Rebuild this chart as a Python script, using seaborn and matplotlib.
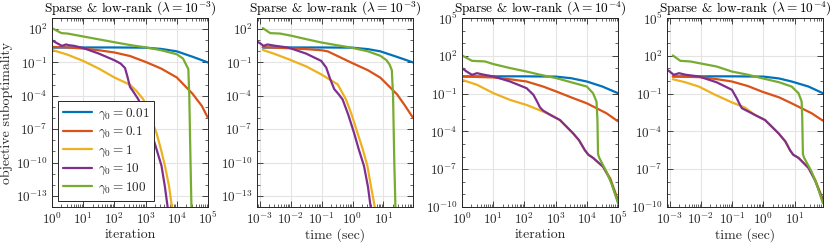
import numpy as np
import pandas as pd
import matplotlib
matplotlib.use('Agg')
import matplotlib.pyplot as plt
from matplotlib.ticker import LogLocator, FixedLocator, NullFormatter
import seaborn as sns

sns.set_theme(style='ticks')
plt.rcParams['font.family'] = 'serif'
plt.rcParams['font.serif'] = ['cmr10']
plt.rcParams['mathtext.fontset'] = 'cm'
plt.rcParams['axes.formatter.use_mathtext'] = True
plt.rcParams['axes.unicode_minus'] = False

# series labels and colours (matlab default order)
gammas = [r'$\gamma_0 = 0.01$', r'$\gamma_0 = 0.1$', r'$\gamma_0 = 1$',
          r'$\gamma_0 = 10$', r'$\gamma_0 = 100$']
colors = ['#0072BD', '#D95319', '#EDB120', '#7E2F8E', '#77AC30']

# all values below are log10 of what is plotted
# panel 1: lambda = 1e-3, vs iteration
it3_x = [
    [0, 1, 2, 3, 3.5, 4, 4.5, 5],
    [0, 0.5, 1, 1.5, 2, 2.5, 3, 3.5, 4, 4.5, 4.8, 5],
    [0, 0.5, 1, 1.5, 2, 2.5, 2.71, 2.93, 3.12, 3.35, 3.5, 3.62, 3.75, 3.86, 3.92],
    [0, 0.15, 0.32, 0.45, 0.55, 0.7, 1.0, 1.5, 2.0, 2.2, 2.34, 2.42, 2.5, 2.6,
     2.77, 2.98, 3.19, 3.35, 3.51, 3.62, 3.72, 3.76],
    [0, 0.3, 0.5, 1.0, 1.5, 2.0, 2.5, 3.0, 3.5, 4.0, 4.2, 4.37, 4.4, 4.44, 4.48],
]
it3_y = [
    [0.34, 0.35, 0.35, 0.33, 0.22, 0.0, -0.48, -1.0],
    [0.4, 0.35, 0.25, 0.1, -0.1, -0.42, -0.95, -1.55, -2.35, -3.8, -4.9, -6.0],
    [0.13, -0.3, -0.86, -1.55, -2.35, -3.0, -3.57, -4.33, -5.68, -7.34, -8.9,
     -10.3, -12.1, -14.3, -15.5],
    [1.0, 0.75, 0.49, 0.62, 0.55, 0.5, 0.3, -0.2, -0.8, -1.1, -1.5, -2.3, -3.2,
     -3.6, -4.33, -5.68, -7.34, -8.8, -10.3, -12.2, -14.3, -15.5],
    [2.09, 1.64, 1.6, 1.34, 1.08, 0.82, 0.57, 0.36, 0.1, -0.26, -0.65, -1.6,
     -4.0, -10.0, -15.5],
]

# panel 2: lambda = 1e-3, vs time (sec)
t3_x = [
    [-2.9, -2, -1, 0, 0.5, 0.9, 1.44, 1.96],
    [-2.9, -2.07, -1.5, -1.0, -0.8, -0.5, -0.05, 0.5, 0.9, 1.44, 1.7, 1.96],
    [-2.9, -2.5, -2.07, -1.5, -1.01, -0.48, -0.21, -0.03, 0.16, 0.33, 0.48,
     0.6, 0.74, 0.78],
    [-3.2, -3.0, -2.87, -2.75, -2.5, -2.07, -1.5, -1.01, -0.85, -0.72, -0.59,
     -0.45, -0.32, -0.14, 0.05, 0.2, 0.37, 0.5, 0.6, 0.65],
    [-2.9, -2.66, -2.34, -1.97, -1.5, -1.01, -0.5, -0.05, 0.5, 0.9, 1.1, 1.2,
     1.27, 1.31, 1.35, 1.4],
]
t3_y = [
    [0.34, 0.35, 0.35, 0.33, 0.2, 0.0, -0.5, -1.0],
    [0.38, 0.28, 0.2, 0.1, 0.0, -0.4, -1.0, -1.7, -2.37, -3.87, -4.9, -6.0],
    [0.13, -0.25, -0.7, -1.35, -2.07, -2.97, -4.33, -5.68, -7.34, -8.8, -10.3,
     -12.2, -14.3, -15.5],
    [1.1, 0.75, 0.49, 0.62, 0.5, 0.34, -0.2, -0.86, -1.46, -2.5, -3.4, -3.85,
     -4.33, -5.68, -7.34, -8.8, -10.3, -12.2, -14.3, -15.5],
    [2.09, 1.64, 1.6, 1.4, 1.1, 0.8, 0.55, 0.34, 0.0, -0.4, -0.8, -1.2, -1.7,
     -4.0, -10.0, -15.5],
]

# panel 3: lambda = 1e-4, vs iteration
it4_x = [
    [0, 1, 2, 3, 3.5, 4, 4.5, 5],
    [0, 1.01, 1.5, 2.07, 2.6, 3.03, 3.5, 4.0, 4.63, 5],
    [0, 0.48, 1.01, 1.54, 2.07, 2.6, 2.9, 3.14, 3.56, 3.75, 3.94, 4.05, 4.2,
     4.52, 4.75, 5],
    [0, 0.15, 0.32, 0.48, 0.7, 1.01, 1.54, 2.07, 2.29, 2.4, 2.5, 2.6, 2.87,
     3.14, 3.56, 3.75, 3.94, 4.05, 4.2, 4.52, 4.75, 4.95, 5],
    [0, 0.32, 0.74, 1.01, 1.5, 2.07, 2.5, 3.03, 3.5, 4.0, 4.2, 4.31, 4.34,
     4.36, 4.4, 4.63, 4.8, 5],
]
it4_y = [
    [0.36, 0.37, 0.37, 0.35, 0.22, -0.04, -0.44, -0.97],
    [0.36, 0.28, 0.15, -0.04, -0.44, -0.84, -1.3, -1.77, -2.56, -3.2],
    [0.09, -0.3, -0.97, -1.5, -1.9, -2.43, -2.75, -3.1, -4.15, -4.7, -5.5,
     -5.85, -6.1, -6.8, -7.7, -9.4],
    [1.02, 0.75, 0.49, 0.62, 0.5, 0.36, -0.04, -0.57, -1.1, -1.6, -2.1, -2.35,
     -2.75, -3.1, -4.15, -4.7, -5.5, -5.85, -6.1, -6.8, -7.8, -9.2, -9.6],
    [2.03, 1.6, 1.55, 1.34, 1.05, 0.75, 0.5, 0.22, -0.1, -0.44, -0.97, -1.63,
     -3.0, -5.8, -6.1, -7.2, -8.2, -9.7],
]

# panel 4: lambda = 1e-4, vs time (sec)
t4_x = [
    [-2.9, -2, -1, 0, 0.5, 0.9, 1.44, 1.9],
    [-2.9, -2.0, -1.5, -1.01, -0.5, -0.05, 0.5, 0.9, 1.54, 1.9],
    [-2.9, -2.5, -2.07, -1.54, -1.01, -0.6, -0.27, 0.05, 0.48, 0.7, 0.85,
     0.95, 1.12, 1.44, 1.65, 1.9],
    [-3.2, -3.0, -2.87, -2.7, -2.5, -2.07, -1.5, -1.01, -0.85, -0.75, -0.69,
     -0.5, -0.27, 0.05, 0.48, 0.7, 0.85, 0.95, 1.12, 1.44, 1.65, 1.86, 1.9],
    [-2.9, -2.66, -2.34, -1.5, -1.01, -0.5, -0.05, 0.5, 0.9, 1.12, 1.22, 1.24,
     1.26, 1.3, 1.54, 1.7, 1.9],
]
t4_y = [
    [0.36, 0.37, 0.37, 0.35, 0.2, -0.04, -0.44, -0.97],
    [0.36, 0.3, 0.15, -0.04, -0.4, -0.84, -1.3, -1.77, -2.56, -3.15],
    [0.14, -0.1, -0.44, -1.1, -1.7, -2.1, -2.7, -3.1, -4.15, -4.8, -5.5,
     -5.85, -6.1, -6.9, -7.8, -9.4],
    [1.1, 0.75, 0.49, 0.62, 0.5, 0.36, -0.1, -0.7, -1.4, -1.9, -2.16, -2.4,
     -2.7, -3.1, -4.15, -4.8, -5.5, -5.85, -6.1, -6.9, -7.9, -9.2, -9.6],
    [2.03, 1.6, 1.55, 1.15, 0.75, 0.5, 0.22, -0.1, -0.44, -0.97, -1.63, -3.0,
     -5.8, -6.1, -7.2, -8.2, -9.7],
]

titles = [r'Sparse & low-rank ($\lambda = 10^{-3}$)'] * 2 + \
         [r'Sparse & low-rank ($\lambda = 10^{-4}$)'] * 2
xlabels = ['iteration', 'time (sec)', 'iteration', 'time (sec)']
xlims = [(1, 1e5), (8.2e-4, 90), (1, 1e5), (8.2e-4, 80)]
ylims = [(1e-14, 1e3), (1e-14, 1e3), (1e-10, 1e5), (1e-10, 1e5)]
ymajor = [np.arange(-13, 3, 3), np.arange(-13, 3, 3),
          np.arange(-10, 6, 3), np.arange(-10, 6, 3)]
panels = [(it3_x, it3_y), (t3_x, t3_y), (it4_x, it4_y), (t4_x, t4_y)]


def to_frame(xs, ys):
    parts = []
    for lab, x, y in zip(gammas, xs, ys):
        parts.append(pd.DataFrame({'x': np.power(10.0, x),
                                   'y': np.power(10.0, y),
                                   'gamma': lab}))
    return pd.concat(parts, ignore_index=True)


fig = plt.figure(figsize=(8.3, 2.46), dpi=100)
lefts = [52, 257, 462, 667]
ink = '#262626'

for i, (xs, ys) in enumerate(panels):
    ax = fig.add_axes([lefts[i] / 830, 39 / 246, 156 / 830, 189 / 246])
    ax.set_xscale('log')
    ax.set_yscale('log')
    df = to_frame(xs, ys)
    sns.lineplot(data=df, x='x', y='y', hue='gamma', hue_order=gammas,
                 palette=colors, estimator=None, sort=False, linewidth=1.6,
                 ax=ax, legend=(i == 0))
    ax.set_xlim(*xlims[i])
    ax.set_ylim(*ylims[i])

    ax.xaxis.set_major_locator(LogLocator(base=10, numticks=20))
    ax.xaxis.set_minor_locator(LogLocator(base=10, subs=np.arange(2, 10), numticks=60))
    ax.xaxis.set_minor_formatter(NullFormatter())
    lo, hi = np.log10(ylims[i])
    ax.yaxis.set_major_locator(FixedLocator(10.0 ** ymajor[i]))
    ax.yaxis.set_minor_locator(FixedLocator(10.0 ** np.arange(lo, hi + 1)))
    ax.yaxis.set_minor_formatter(NullFormatter())

    ax.tick_params(which='both', direction='in', top=True, right=True,
                   colors=ink, labelsize=9.5, pad=3)
    ax.tick_params(which='major', length=4, width=0.6)
    ax.tick_params(which='minor', length=2, width=0.5)
    ax.grid(True, which='major', color='#e4e4e4', linewidth=0.8)
    ax.set_axisbelow(True)
    for sp in ax.spines.values():
        sp.set_color(ink)
        sp.set_linewidth(0.7)

    ax.set_title(titles[i], fontsize=9.6, pad=2, color='black')
    ax.set_xlabel(xlabels[i], fontsize=10, labelpad=1, color=ink)
    if i == 0:
        ax.set_ylabel('objective suboptimality', fontsize=10, labelpad=2, color=ink)
        leg = ax.legend(loc='lower left', fontsize=9.5, fancybox=False,
                        framealpha=1, edgecolor=ink, handlelength=2.2,
                        borderaxespad=0.45, labelspacing=0.25,
                        handletextpad=0.4, borderpad=0.4)
        leg.get_frame().set_linewidth(0.7)
    else:
        ax.set_ylabel('')

fig.savefig('out.png', dpi=100)
